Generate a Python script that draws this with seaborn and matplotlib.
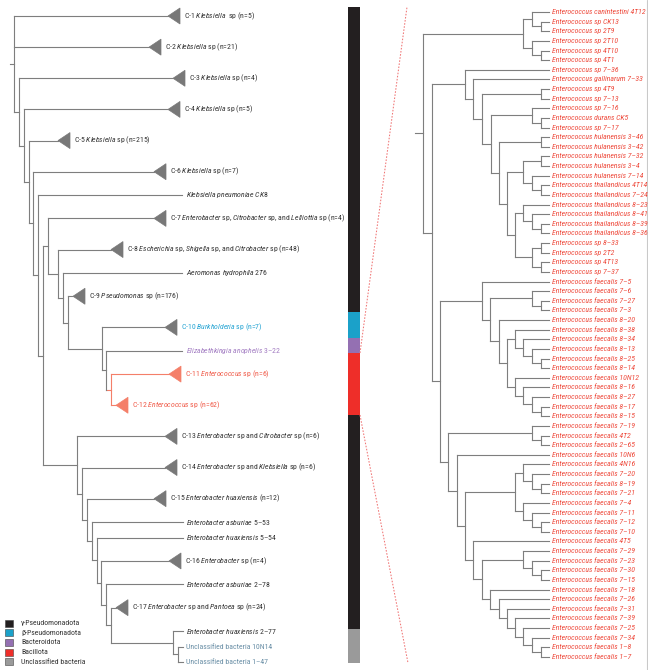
import matplotlib
matplotlib.use("Agg")
import matplotlib.pyplot as plt
from matplotlib import font_manager
from matplotlib.patches import Rectangle, Polygon
import pandas as pd
import seaborn as sns

# ------------------------------------------------------------------ data
# left tree: tips (collapsed clades 'c' or single leaves 'l')
left_labels = [
    r"C-1 $\mathit{Klebsiella}$  sp (n=5)",
    r"C-2 $\mathit{Klebsiella}$ sp (n=21)",
    r"C-3 $\mathit{Klebsiella}$ sp (n=4)",
    r"C-4 $\mathit{Klebsiella}$ sp (n=5)",
    r"C-5 $\mathit{Klebsiella}$ sp (n=215)",
    r"C-6 $\mathit{Klebsiella}$ sp (n=7)",
    r"$\mathit{Klebsiella\ pneumoniae\ CK8}$",
    r"C-7 $\mathit{Enterobacter}$ sp, $\mathit{Citrobacter}$ sp, and $\mathit{Lelliottia}$ sp (n=4)",
    r"C-8 $\mathit{Escherichia}$ sp, $\mathit{Shigella}$ sp, and $\mathit{Citrobacter}$ sp (n=48)",
    r"$\mathit{Aeromonas\ hydrophila\ 2T6}$",
    r"C-9 $\mathit{Pseudomonas}$ sp (n=176)",
    r"C-10 $\mathit{Burkholderia}$ sp (n=7)",
    r"$\mathit{Elizabethkingia\ anophelis}$ 3–22",
    r"C-11 $\mathit{Enterococcus}$ sp (n=6)",
    r"C-12 $\mathit{Enterococcus}$ sp (n=62)",
    r"C-13 $\mathit{Enterobacter}$ sp and $\mathit{Citrobacter}$ sp (n=6)",
    r"C-14 $\mathit{Enterobacter}$ sp and $\mathit{Klebsiella}$ sp (n=6)",
    r"C-15 $\mathit{Enterobacter\ huaxiensis}$ (n=12)",
    r"$\mathit{Enterobacter\ asburiae}$ 5–53",
    r"$\mathit{Enterobacter\ huaxiensis}$ 5–54",
    r"C-16 $\mathit{Enterobacter}$ sp (n=4)",
    r"$\mathit{Enterobacter\ asburiae}$ 2–78",
    r"C-17 $\mathit{Enterobacter}$ sp and $\mathit{Pantoea}$ sp (n=24)",
    r"$\mathit{Enterobacter\ huaxiensis}$ 2–77",
    "Unclassified bacteria 10N14",
    "Unclassified bacteria 1–47",
]
left_kind = ["c", "c", "c", "c", "c", "c", "l", "c", "c", "l", "c", "c", "l",
             "c", "c", "c", "c", "c", "l", "l", "c", "l", "c", "l", "l", "l"]
left_tip_depth = [154, 135, 159, 154, 44, 140, 168, 140, 97, 168, 59, 151, 168,
                  155, 102, 151, 151, 140, 169, 169, 155, 169, 102, 169, 169, 169]
left_phylum = ["g"] * 11 + ["b", "bd", "ba", "ba"] + ["g"] * 9 + ["u", "u"]
# topology: leaves are tip indices, number after ')' = node depth
LEFT_NEWICK = ("(0,1,(2,(3,(4,(5,(6,((7,(8,(9,(10,(11,(12,(13,14)97)92)88)54)49)44)34,"
               "(15,(16,(17,(18,(19,(20,(21,(22,(23,(24,25)164)159)97)92)87)83)78)73)68)63)"
               "29)24)19)15)10)5)0")

# right tree (Bacillota / Enterococcus detail)
right_labels = [
    "Enterococcus canintestini 4T12", "Enterococcus sp CK13", "Enterococcus sp 2T9",
    "Enterococcus sp 2T10", "Enterococcus sp 4T10", "Enterococcus sp 4T1",
    "Enterococcus sp 7–36", "Enterococcus gallinarum 7–33", "Enterococcus sp 4T9",
    "Enterococcus sp 7–13", "Enterococcus sp 7–16", "Enterococcus durans CK5",
    "Enterococcus sp 7–17", "Enterococcus hulanensis 3–46", "Enterococcus hulanensis 3–42",
    "Enterococcus hulanensis 7–32", "Enterococcus hulanensis 3–4", "Enterococcus hulanensis 7–14",
    "Enterococcus thailandicus 4T14", "Enterococcus thailandicus 7–24",
    "Enterococcus thailandicus 8–23", "Enterococcus thailandicus 8–41",
    "Enterococcus thailandicus 8–39", "Enterococcus thailandicus 8–36",
    "Enterococcus sp 8–33", "Enterococcus sp 2T2", "Enterococcus sp 4T13", "Enterococcus sp 7–37",
    "Enterococcus faecalis 7–5", "Enterococcus faecalis 7–6", "Enterococcus faecalis 7–27",
    "Enterococcus faecalis 7–3", "Enterococcus faecalis 8–20", "Enterococcus faecalis 8–38",
    "Enterococcus faecalis 8–34", "Enterococcus faecalis 8–13", "Enterococcus faecalis 8–25",
    "Enterococcus faecalis 8–14", "Enterococcus faecalis 10N12", "Enterococcus faecalis 8–16",
    "Enterococcus faecalis 8–27", "Enterococcus faecalis 8–17", "Enterococcus faecalis 8–15",
    "Enterococcus faecalis 7–19", "Enterococcus faecalis 4T2", "Enterococcus faecalis 2–65",
    "Enterococcus faecalis 10N6", "Enterococcus faecalis 4N16", "Enterococcus faecalis 7–20",
    "Enterococcus faecalis 8–19", "Enterococcus faecalis 7–21", "Enterococcus faecalis 7–4",
    "Enterococcus faecalis 7–11", "Enterococcus faecalis 7–12", "Enterococcus faecalis 7–10",
    "Enterococcus faecalis 4T5", "Enterococcus faecalis 7–29", "Enterococcus faecalis 7–23",
    "Enterococcus faecalis 7–30", "Enterococcus faecalis 7–15", "Enterococcus faecalis 7–18",
    "Enterococcus faecalis 7–26", "Enterococcus faecalis 7–31", "Enterococcus faecalis 7–39",
    "Enterococcus faecalis 7–25", "Enterococcus faecalis 7–34", "Enterococcus faecalis 1–8",
    "Enterococcus faecalis 1–7",
]
right_tip_depth = 126
RIGHT_NEWICK = (
    "(((0,(1,2)118)109,(3,(4,5)118)109)100,"
    "((6,(7,((8,9)118,((10,(11,12)118)109,((13,14)118,(((15,16)118,(17,(18,19)118)109)100,"
    "((20,(21,(22,23)118)109)100,((24,25)118,(26,27)118)109)92)84)76)68)59)50)42,"
    "((28,((29,(30,31)118)109,(32,((33,(34,(35,(36,37)118)109)100)92,"
    "(38,(39,(40,(41,42)118)109)100)92)84)76)67)59,"
    "((43,(44,45)118)109,(46,(((47,(48,(49,50)118)109)100,(51,(52,(53,54)118)109)100)92,"
    "(55,((56,(57,(58,59)118)109)100,(60,(61,(62,(63,(64,(65,(66,67)118)109)100)92)84)76)67)"
    "59)50)42)34)25)17)9)0"
)

# phylum colour bar: spans in left-tree tip-slot units
bar_phylum = ["g", "b", "bd", "ba", "g", "u"]
bar_start = [-0.58, 19.0, 20.68, 21.64, 25.63, 39.37]
bar_end = [19.0, 20.68, 21.64, 25.63, 39.37, 41.55]

legend_keys = ["g", "b", "bd", "ba", "u"]
legend_names = ["γ-Pseudomonadota", "β-Pseudomonadota", "Bacteroidota", "Bacillota",
                "Unclassified bacteria"]

# ------------------------------------------------------------------ style
bar_colors = {"g": "#231f20", "b": "#1ba1c9", "bd": "#9470b2", "ba": "#ee2e29", "u": "#9a9a9a"}
text_colors = {"g": "#333333", "b": "#25a4d3", "bd": "#a27cc2", "ba": "#f05a48", "u": "#6a8fa6"}
LINE_GRAY = "#7e7e7e"
LINE_RED = "#f47f69"
RIGHT_TEXT = "#ee4a3c"

sns.set_theme(style="white")
avail = {f.name for f in font_manager.fontManager.ttflist}
FONT, FS = "DejaVu Sans", 4.6
for cand, size in [("Liberation Sans Narrow", 5.7), ("Roboto Condensed", 5.6),
                   ("Roboto", 5.0), ("Lato", 5.1)]:
    if cand in avail:
        FONT, FS = cand, size
        break
plt.rcParams["font.family"] = [FONT, "DejaVu Sans"]
plt.rcParams["mathtext.fontset"] = "custom"
plt.rcParams["mathtext.rm"] = FONT
plt.rcParams["mathtext.it"] = FONT + ":italic"
plt.rcParams["mathtext.bf"] = FONT + ":bold"


def parse_newick(s):
    pos = 0

    def num():
        nonlocal pos
        st = pos
        while pos < len(s) and (s[pos].isdigit() or s[pos] == "."):
            pos += 1
        return s[st:pos]

    def node():
        nonlocal pos
        if s[pos] == "(":
            pos += 1
            kids = [node()]
            while s[pos] == ",":
                pos += 1
                kids.append(node())
            assert s[pos] == ")"
            pos += 1
            return (float(num()), kids)
        return int(num())

    return node()


def layout(tree, tip_depth, tip_y, red_tips, x0, vsegs, hsegs):
    def walk(n):
        if isinstance(n, int):
            return x0 + tip_depth[n], tip_y[n], n in red_tips
        d, kids = n
        res = [walk(k) for k in kids]
        ys = [r[1] for r in res]
        red = all(r[2] for r in res)
        x = x0 + d
        vsegs.append((x, ys[0], ys[-1], red))
        for cx, cy, cr in res:
            hsegs.append((x, cx, cy, cr))
        return x, (ys[0] + ys[-1]) / 2, red
    return walk(tree)


fig = plt.figure(figsize=(6.48, 6.70), dpi=100)
ax = fig.add_axes([0, 0, 1, 1])

# ---- left tree geometry
L_X0, L_Y0, L_UNIT = 14, 16, 15.57
weights = [2 if k == "c" else 1 for k in left_kind]
slots = [0.0]
for i in range(1, len(weights)):
    slots.append(slots[-1] + (weights[i - 1] + weights[i]) / 2)
left_y = [L_Y0 + L_UNIT * s for s in slots]
red_left = {i for i, p in enumerate(left_phylum) if p == "ba"}
vsegs, hsegs = [], []
lroot = layout(parse_newick(LEFT_NEWICK), left_tip_depth, left_y, red_left, L_X0, vsegs, hsegs)
hsegs.append((L_X0 - 4, L_X0, lroot[1], False))

# ---- right tree geometry
R_X0, R_TOP, R_BOT = 423, 12, 657
n_r = len(right_labels)
right_y = [R_TOP + (R_BOT - R_TOP) * i / (n_r - 1) for i in range(n_r)]
rroot = layout(parse_newick(RIGHT_NEWICK), [right_tip_depth] * n_r, right_y, set(),
               R_X0, vsegs, hsegs)
hsegs.append((R_X0 - 8, R_X0, rroot[1], False))

rows = []
sid = 0
for x, y1, y2, red in vsegs:
    g = "red" if red else "gray"
    rows += [(sid, x, y1, g), (sid, x, y2, g)]
    sid += 1
for x1, x2, y, red in hsegs:
    g = "red" if red else "gray"
    rows += [(sid, x1, y, g), (sid, x2, y, g)]
    sid += 1
seg_df = pd.DataFrame(rows, columns=["seg", "x", "y", "grp"])
sns.lineplot(data=seg_df, x="x", y="y", units="seg", estimator=None, sort=False,
             hue="grp", palette={"gray": LINE_GRAY, "red": LINE_RED}, legend=False,
             linewidth=0.8, solid_capstyle="projecting", ax=ax)

# collapsed-clade triangles and labels (left)
TRI_W, TRI_H = 12, 8
for i, lab in enumerate(left_labels):
    x = L_X0 + left_tip_depth[i]
    y = left_y[i]
    if left_kind[i] == "c":
        fc = LINE_RED if left_phylum[i] == "ba" else "#787878"
        ax.add_patch(Polygon([(x, y), (x + TRI_W, y - TRI_H), (x + TRI_W, y + TRI_H)],
                             closed=True, facecolor=fc, edgecolor=fc, lw=0.5))
        tx = x + TRI_W + 4
    else:
        tx = x + 3.5
    ax.text(tx, y, lab, fontsize=FS, color=text_colors[left_phylum[i]],
            ha="left", va="center")

for i, lab in enumerate(right_labels):
    ax.text(R_X0 + right_tip_depth + 3.5, right_y[i], lab, fontsize=FS, style="italic",
            color=RIGHT_TEXT, ha="left", va="center")

# phylum bar
BAR_X, BAR_W = 348, 12
red_span = None
for p, s0, s1 in zip(bar_phylum, bar_start, bar_end):
    y0, y1 = L_Y0 + L_UNIT * s0, L_Y0 + L_UNIT * s1
    ax.add_patch(Rectangle((BAR_X, y0), BAR_W, y1 - y0, facecolor=bar_colors[p],
                           edgecolor="none"))
    if p == "ba":
        red_span = (y0, y1)

# zoom connectors
ZX = 407
ax.plot([BAR_X + BAR_W, ZX], [red_span[0], R_TOP - 5], color="#f07575", lw=0.75,
        ls=(0, (1.5, 1.5)))
ax.plot([BAR_X + BAR_W, ZX + 1], [red_span[1], R_BOT + 6], color="#f07575", lw=0.75,
        ls=(0, (1.5, 1.5)))

# right frame line
ax.plot([646.5, 646.5], [0, 670], color="#c9c9c9", lw=0.8)

# legend
for k, (key, name) in enumerate(zip(legend_keys, legend_names)):
    yc = 623 + 9.7 * k
    ax.add_patch(Rectangle((5, yc - 3.5), 8, 7, facecolor=bar_colors[key],
                           edgecolor="#444444", lw=0.4))
    ax.text(21, yc, name, fontsize=FS, color="#333333", ha="left", va="center")

ax.set_xlim(0, 648)
ax.set_ylim(670, 0)
ax.axis("off")
fig.savefig("out.png", dpi=100, facecolor="white")
